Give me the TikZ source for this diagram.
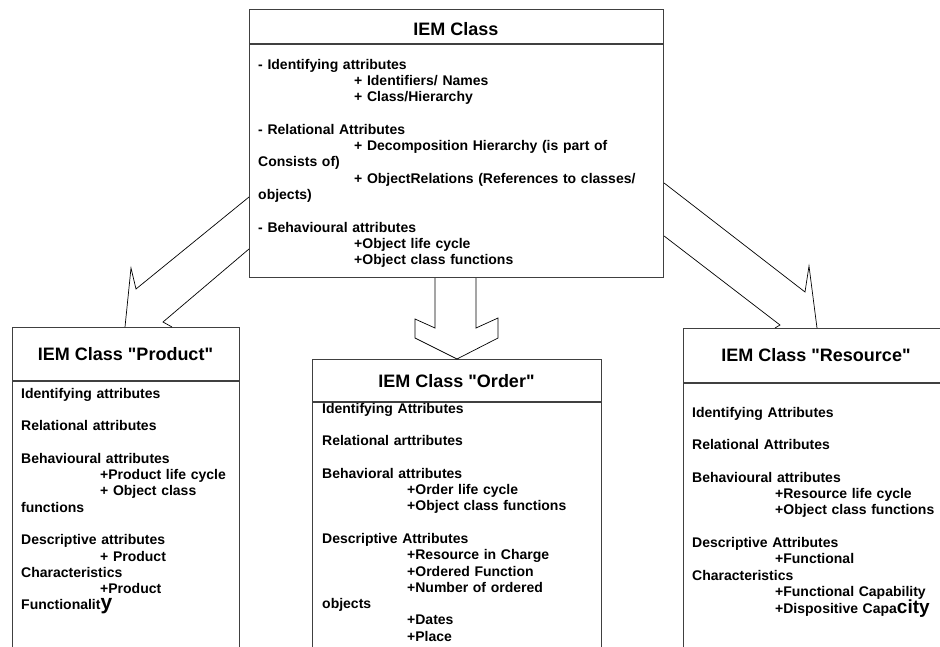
\documentclass[tikz,border=0pt]{standalone}
\usepackage{fontspec}
\setmainfont{Liberation Sans}
\usetikzlibrary{calc}
% straight double quote, loaded without the TeX text mapping
\font\straightq="Liberation Sans/B" at 18pt
\newcommand{\dq}{{\straightq\char34}}
\begin{document}
\begin{tikzpicture}[x=1pt,y=-1pt,
  classbox/.style={draw=black!75, fill=white, line width=1.1pt, inner sep=0pt, anchor=north west},
  divider/.style={draw=black!75, line width=1.1pt},
  blockarrow/.style={draw=black, line width=0.7pt, line join=miter},
  classtitle/.style={font=\bfseries\fontsize{18}{20}\selectfont, inner sep=0pt},
  body/.style={font=\bfseries\fontsize{14}{16.3}\selectfont, inner sep=0pt, anchor=base west, align=left, text width=400pt}]

\useasboundingbox (0,0) rectangle (940,646);

% generic class and the three specialised classes (boxes only)
\node[classbox, minimum width=414pt, minimum height=268pt] (iem) at (249,9) {};
\node[classbox, minimum width=227pt, minimum height=333pt] (prod) at (12,327) {};
\node[classbox, minimum width=289pt, minimum height=301pt] (ord) at (312,359) {};
\node[classbox, minimum width=272pt, minimum height=332pt] (res) at (683,328) {};

% block arrows from the generic class to the specialisations
\draw[blockarrow] ($(iem.north west)+(0,188)$) -- (136,289) -- (131,268)
  -- ($(prod.north west)+(113,0)$)
  ($(prod.north west)+(160,0)$) -- (163,322) -- ($(iem.north west)+(0,240)$);
\draw[blockarrow] ($(iem.south west)+(186,0)$) -- (435,328) -- (415,319) -- (415,338)
  -- ($(ord.north west)+(145,0)$) -- (498,338) -- (498,318) -- (476,328)
  -- ($(iem.south west)+(227,0)$);
\draw[blockarrow] ($(iem.north east)+(0,174)$) -- (805,292) -- (809,266)
  -- ($(res.north west)+(134,0)$)
  ($(res.north west)+(92,0)$) -- (780,325) -- ($(iem.north east)+(0,227)$);

% header dividers
\draw[divider] ($(iem.north west)+(0,35)$) -- ($(iem.north east)+(0,35)$);
\draw[divider] ($(prod.north west)+(0,54)$) -- ($(prod.north east)+(0,54)$);
\draw[divider] ($(ord.north west)+(0,43)$) -- ($(ord.north east)+(0,43)$);
\draw[divider] ($(res.north west)+(0,55)$) -- ($(res.north east)+(0,55)$);

% titles
\node[classtitle] (iemtitle) at (456,29) {IEM Class};
\node[classtitle] (prodtitle) at (125.5,354) {IEM Class \dq Product\dq};
\node[classtitle] (ordtitle) at (456.5,381) {IEM Class \dq Order\dq};
\node[classtitle] (restitle) at (816,355) {IEM Class \dq Resource\dq};

% attribute lists
\node[body] (iembody) at (258,69) {%
- Identifying attributes\\
\hspace*{96pt}+ Identifiers/ Names\\
\hspace*{96pt}+ Class/Hierarchy\\[16.3pt]
- Relational Attributes\\
\hspace*{96pt}+ Decomposition Hierarchy (is part of\\
Consists of)\\
\hspace*{96pt}+ ObjectRelations (References to classes/\\
objects)\\[16.3pt]
- Behavioural attributes\\
\hspace*{96pt}+Object life cycle\\
\hspace*{96pt}+Object class functions};

\node[body] (prodbody) at (21,398) {%
Identifying attributes\\[16.3pt]
Relational attributes\\[16.3pt]
Behavioural attributes\\
\hspace*{79pt}+Product life cycle\\
\hspace*{79pt}+ Object class\\
functions\\[16.3pt]
Descriptive attributes\\
\hspace*{79pt}+ Product\\
Characteristics\\
\hspace*{79pt}+Product\\
Functionalit{\fontsize{21}{16}\selectfont y}};

\node[body] (ordbody) at (322,413) {%
Identifying Attributes\\[16.3pt]
Relational arttributes\\[16.3pt]
Behavioral attributes\\
\hspace*{85pt}+Order life cycle\\
\hspace*{85pt}+Object class functions\\[16.3pt]
Descriptive Attributes\\
\hspace*{85pt}+Resource in Charge\\
\hspace*{85pt}+Ordered Function\\
\hspace*{85pt}+Number of ordered\\
objects\\
\hspace*{85pt}+Dates\\
\hspace*{85pt}+Place};

\node[body] (resbody) at (692,417) {%
Identifying Attributes\\[16.3pt]
Relational Attributes\\[16.3pt]
Behavioural attributes\\
\hspace*{83pt}+Resource life cycle\\
\hspace*{83pt}+Object class functions\\[16.3pt]
Descriptive Attributes\\
\hspace*{83pt}+Functional\\
Characteristics\\
\hspace*{83pt}+Functional Capability\\
\hspace*{83pt}+Dispositive Capa{\fontsize{19}{16}\selectfont city}};
\end{tikzpicture}
\end{document}
